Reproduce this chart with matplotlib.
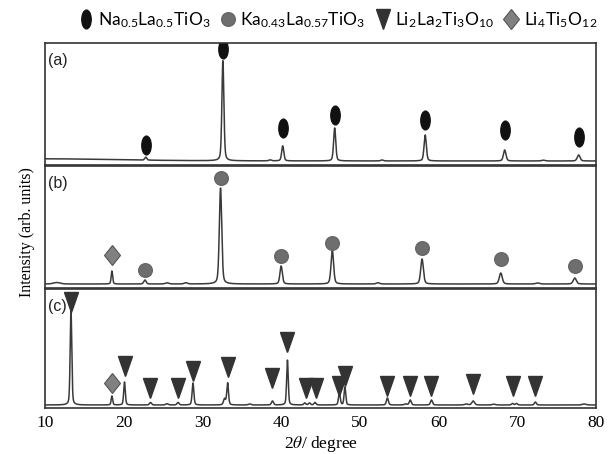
import numpy as np
import matplotlib
matplotlib.use("Agg")
import matplotlib.pyplot as plt
from matplotlib.markers import MarkerStyle
from matplotlib.transforms import Affine2D
from matplotlib.lines import Line2D

# ---------------- data ----------------
x_min, x_max = 10, 80
x_ticks = [10, 20, 30, 40, 50, 60, 70, 80]

# pattern (a): peak position (deg), intensity (a.u.), FWHM (deg)
a_pos = [10.0, 22.8, 32.6, 38.6, 40.2, 46.8, 52.8, 58.3, 68.4, 73.3, 77.8]
a_int = [2.2, 3.0, 100, 1.0, 15, 33, 1.0, 26, 11, 0.8, 6]
a_fw = [22.0, 0.30, 0.30, 0.4, 0.32, 0.32, 0.4, 0.34, 0.38, 0.5, 0.42]

# pattern (b)
b_pos = [11.5, 18.5, 22.7, 25.5, 27.9, 32.3, 40.0, 46.5, 52.3, 57.9, 67.9, 72.6, 77.3]
b_int = [1.5, 13, 4, 1.2, 1.2, 96, 18, 34, 1.2, 25, 11, 1.0, 6]
b_fw = [1.0, 0.22, 0.35, 0.5, 0.5, 0.36, 0.36, 0.38, 0.5, 0.40, 0.44, 0.6, 0.46]

# pattern (c)
c_pos = [13.3, 18.5, 20.1, 23.4, 25.5, 26.9, 28.8, 32.8, 33.2, 36.0, 38.9, 40.8,
         43.0, 43.6, 44.3, 47.4, 48.1, 53.5, 55.8, 56.4, 59.1, 63.5, 64.4, 67.0,
         69.4, 69.9, 72.3, 78.5]
c_int = [95, 9, 23, 2.5, 1.2, 2.5, 22, 6, 22, 1.0, 4, 45,
         2, 2, 2.5, 13, 18, 7, 1.0, 5, 5, 1.0, 4, 0.8,
         1.5, 1.5, 3, 1.0]
c_fw = [0.24, 0.22, 0.24, 0.3, 0.4, 0.3, 0.26, 0.3, 0.26, 0.4, 0.3, 0.24,
        0.3, 0.3, 0.3, 0.26, 0.24, 0.3, 0.4, 0.3, 0.3, 0.5, 0.4, 0.5,
        0.3, 0.3, 0.3, 0.6]

# phase markers: position and level (same intensity units)
a_nlto_pos = [22.8, 32.6, 40.2, 46.8, 58.3, 68.4, 77.8]
a_nlto_lvl = [16, 112, 33, 46, 41, 31, 24]
b_klto_pos = [22.7, 32.3, 40.0, 46.5, 57.9, 67.9, 77.3]
b_klto_lvl = [14, 106, 28, 41, 36, 25, 18]
b_lto_pos = [18.5]
b_lto_lvl = [29]
c_llto_pos = [13.3, 20.1, 23.4, 26.9, 28.8, 33.2, 38.9, 40.8, 43.1, 44.4,
              47.4, 48.1, 53.5, 56.4, 59.1, 64.4, 69.5, 72.3]
c_llto_lvl = [103, 39.5, 17.5, 17.5, 34, 38, 27, 63, 17, 17,
              19, 29, 19, 19, 19, 21, 19, 19]
c_lto_pos = [18.5]
c_lto_lvl = [22]

panel_labels = ["(a)", "(b)", "(c)"]
legend_labels = [r"Na$_{\mathregular{0.5}}$La$_{\mathregular{0.5}}$TiO$_{\mathregular{3}}$",
                 r"Ka$_{\mathregular{0.43}}$La$_{\mathregular{0.57}}$TiO$_{\mathregular{3}}$",
                 r"Li$_{\mathregular{2}}$La$_{\mathregular{2}}$Ti$_{\mathregular{3}}$O$_{\mathregular{10}}$",
                 r"Li$_{\mathregular{4}}$Ti$_{\mathregular{5}}$O$_{\mathregular{12}}$"]

# ---------------- helpers ----------------
def pattern(x, pos, inten, fw, eta=0.35):
    y = np.zeros_like(x)
    for c, h, w in zip(pos, inten, fw):
        g = np.exp(-4 * np.log(2) * ((x - c) / w) ** 2)
        l = 1.0 / (1 + 4 * ((x - c) / w) ** 2)
        y += h * (eta * l + (1 - eta) * g)
    return y

plt.rcParams["mathtext.fontset"] = "stix"

x = np.linspace(x_min, x_max, 5000)
ya = pattern(x, a_pos, a_int, a_fw)
yb = pattern(x, b_pos, b_int, b_fw)
yc = pattern(x, c_pos, c_int, c_fw)

ell = MarkerStyle("o", transform=Affine2D().scale(0.5, 1.0))
tri = MarkerStyle("v", transform=Affine2D().scale(1.0, 1.6))
dia = MarkerStyle("D", transform=Affine2D().scale(1.0, 1.25))

ell_kw = dict(marker=ell, ms=13.5, color="#111111", ls="none")
cir_kw = dict(marker="o", ms=9.8, color="#6e6e6e", mec="#666666", ls="none")
tri_kw = dict(marker=tri, ms=9.4, color="#333333", ls="none")
dia_kw = dict(marker=dia, ms=8.2, mfc="#808080", mec="#555555", mew=0.8, ls="none")

W, H = 613, 454
fig = plt.figure(figsize=(W / 100, H / 100), dpi=100)

left, right = 45 / W, 596 / W
panels_px = [(43, 165, 4), (166, 288, 4), (289, 408, 3)]
axes = []
for (top, bot, base) in panels_px:
    ax = fig.add_axes([left, 1 - bot / H, right - left, (bot - top) / H])
    ax.set_xlim(x_min, x_max)
    ax.set_ylim(-base, (bot - top) - base)
    ax.set_yticks([])
    for s in ax.spines.values():
        s.set_color("#333333")
        s.set_linewidth(1.2)
    ax.tick_params(axis="x", length=0)
    axes.append(ax)

line_kw = dict(color="#3a3a3a", lw=1.1)
axes[0].plot(x, ya, **line_kw)
axes[1].plot(x, yb, **line_kw)
axes[2].plot(x, yc, **line_kw)

axes[0].plot(a_nlto_pos, a_nlto_lvl, **ell_kw)
axes[1].plot(b_klto_pos, b_klto_lvl, **cir_kw)
axes[1].plot(b_lto_pos, b_lto_lvl, **dia_kw)
axes[2].plot(c_llto_pos, c_llto_lvl, **tri_kw)
axes[2].plot(c_lto_pos, c_lto_lvl, **dia_kw)

for ax, lab in zip(axes, panel_labels):
    ax.text(0.006, 0.915, lab, transform=ax.transAxes, ha="left", va="top",
            fontsize=11.5, family="Liberation Sans", color="#222222")

for ax in axes[:2]:
    ax.set_xticks([])
axes[2].set_xticks(x_ticks)
axes[2].set_xticklabels([str(t) for t in x_ticks], family="Liberation Serif", fontsize=12.5)
axes[2].tick_params(axis="x", pad=5)
axes[2].set_xlabel(r"2$\mathit{\theta}$/ degree", family="Liberation Serif", fontsize=12.5, labelpad=2)

fig.text(27 / W, 1 - 232 / H, "Intensity (arb. units)", rotation=90, ha="center", va="center",
         family="Liberation Serif", fontsize=11.5)

handles = [Line2D([], [], **ell_kw), Line2D([], [], **cir_kw),
           Line2D([], [], **tri_kw), Line2D([], [], **dia_kw)]
fig.legend(handles, legend_labels, loc="center", bbox_to_anchor=(338 / W, 1 - 20 / H),
           ncol=4, frameon=False, handlelength=0.8, handletextpad=0.3, columnspacing=0.6,
           prop={"family": "Lato", "size": 12.5}, borderaxespad=0, borderpad=0)

fig.savefig("out.png", dpi=100)
